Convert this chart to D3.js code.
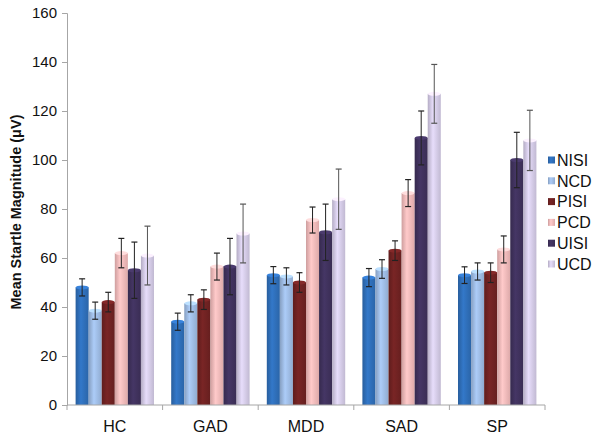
<!DOCTYPE html>
<html>
<head>
<meta charset="utf-8">
<script src="https://cdn.jsdelivr.net/npm/d3@7"></script>
<style>
  body { margin: 0; background: #fff; }
  svg { display: block; font-family: "Liberation Sans", Arial, sans-serif; }
</style>
</head>
<body>
<svg id="chart" width="614" height="438"></svg>
<script>
const categories = ["HC", "GAD", "MDD", "SAD", "SP"];
const seriesNames = ["NISI", "NCD", "PISI", "PCD", "UISI", "UCD"];
const NISI = [48, 34, 53, 52, 53];
const NCD = [38.5, 41.5, 52.5, 55.5, 54.5];
const PISI = [42, 43, 50, 63, 54];
const PCD = [62, 56.5, 75.5, 86.5, 63.5];
const UISI = [55, 56.5, 70.5, 109, 100];
const UCD = [61, 70, 84, 127, 108];
const NISI_err = [3.5, 3.5, 3.5, 3.7, 3.4];
const NCD_err = [3.5, 3.5, 3.5, 3.8, 3.5];
const PISI_err = [4, 4, 4, 4, 4];
const PCD_err = [6, 5.5, 5.3, 5.5, 5.5];
const UISI_err = [11.5, 11.5, 11.5, 11, 11.3];
const UCD_err = [12, 12, 12.3, 12, 12.3];
const yTicks = [0, 20, 40, 60, 80, 100, 120, 140, 160];
const colors = ["#2f6eb8", "#9dbbe3", "#6f2222", "#f2b9b9", "#3f315c", "#d3cae6"];

const values = [NISI, NCD, PISI, PCD, UISI, UCD];
const errors = [NISI_err, NCD_err, PISI_err, PCD_err, UISI_err, UCD_err];

const svg = d3.select("#chart");
const x0 = d3.scaleBand().domain(categories).range([67, 545]).paddingInner(0.18).paddingOuter(0.09);
const x1 = d3.scaleBand().domain(seriesNames).range([0, x0.bandwidth()]);
const y = d3.scaleLinear().domain([0, 160]).range([405, 13]);

// gradients
const defs = svg.append("defs");
seriesNames.forEach((s, i) => {
  const c = d3.color(colors[i]);
  const g = defs.append("linearGradient").attr("id", "g" + i).attr("x1", "0").attr("x2", "1").attr("y1", "0").attr("y2", "0");
  g.append("stop").attr("offset", "0%").attr("stop-color", c.darker(0.45));
  g.append("stop").attr("offset", "40%").attr("stop-color", c.brighter(0.25));
  g.append("stop").attr("offset", "100%").attr("stop-color", c.darker(0.25));
});

// y axis
const yAxis = d3.axisLeft(y).tickValues(yTicks).tickSize(5).tickPadding(5);
const gy = svg.append("g").attr("transform", "translate(67,0)").call(yAxis);
gy.select(".domain").attr("stroke", "#a6a6a6");
gy.selectAll(".tick line").attr("stroke", "#a6a6a6");
gy.selectAll(".tick text").attr("font-size", 15).attr("fill", "#111").attr("font-family", "Liberation Sans, Arial, sans-serif");

// bars
const groups = svg.append("g").selectAll("g").data(categories).join("g")
  .attr("transform", d => `translate(${x0(d)},0)`);

groups.each(function(cat, ci) {
  const g = d3.select(this);
  seriesNames.forEach((s, si) => {
    const v = values[si][ci];
    const e = errors[si][ci];
    const bx = x1(s), bw = x1.bandwidth();
    g.append("rect").attr("x", bx).attr("y", y(v)).attr("width", bw).attr("height", y(0) - y(v))
      .attr("fill", `url(#g${si})`);
    g.append("ellipse").attr("cx", bx + bw / 2).attr("cy", y(v)).attr("rx", bw / 2).attr("ry", 2)
      .attr("fill", d3.color(colors[si]).brighter(0.5));
    const cx = bx + bw / 2;
    const ec = si === 5 ? "#555" : "#222";
    g.append("line").attr("x1", cx).attr("x2", cx).attr("y1", y(v + e)).attr("y2", y(v - e)).attr("stroke", ec).attr("stroke-width", 1);
    g.append("line").attr("x1", cx - 3).attr("x2", cx + 3).attr("y1", y(v + e)).attr("y2", y(v + e)).attr("stroke", ec).attr("stroke-width", 1.2);
    g.append("line").attr("x1", cx - 3).attr("x2", cx + 3).attr("y1", y(v - e)).attr("y2", y(v - e)).attr("stroke", ec).attr("stroke-width", 1.2);
  });
});

// x axis
const xAxis = d3.axisBottom(x0).tickSize(0).tickPadding(16);
const gx = svg.append("g").attr("transform", "translate(0,405)").call(xAxis);
gx.select(".domain").attr("stroke", "#a6a6a6").attr("d", "M67,0H545");
gx.selectAll(".tick text").attr("font-size", 16).attr("fill", "#111").attr("font-family", "Liberation Sans, Arial, sans-serif");
const step = x0.step();
const bounds = d3.range(6).map(i => 67 + i * step);
svg.append("g").selectAll("line").data(bounds).join("line")
  .attr("x1", d => d).attr("x2", d => d).attr("y1", 405).attr("y2", 410)
  .attr("stroke", "#a6a6a6");

// y label
svg.append("text").attr("transform", "translate(21,212) rotate(-90)")
  .attr("text-anchor", "middle").attr("font-size", 14.5).attr("font-weight", "bold").attr("fill", "#111")
  .text("Mean Startle Magnitude (μV)");

// legend
const lg = svg.append("g").selectAll("g").data(seriesNames).join("g")
  .attr("transform", (d, i) => `translate(548,${160 + i * 20.8})`);
lg.append("rect").attr("x", 0).attr("y", -3.5).attr("width", 7).attr("height", 7)
  .attr("fill", (d, i) => `url(#g${i})`);
lg.append("text").attr("x", 9).attr("y", 0).attr("dy", "0.36em").attr("font-size", 16).attr("fill", "#111")
  .text(d => d);
</script>
</body>
</html>
